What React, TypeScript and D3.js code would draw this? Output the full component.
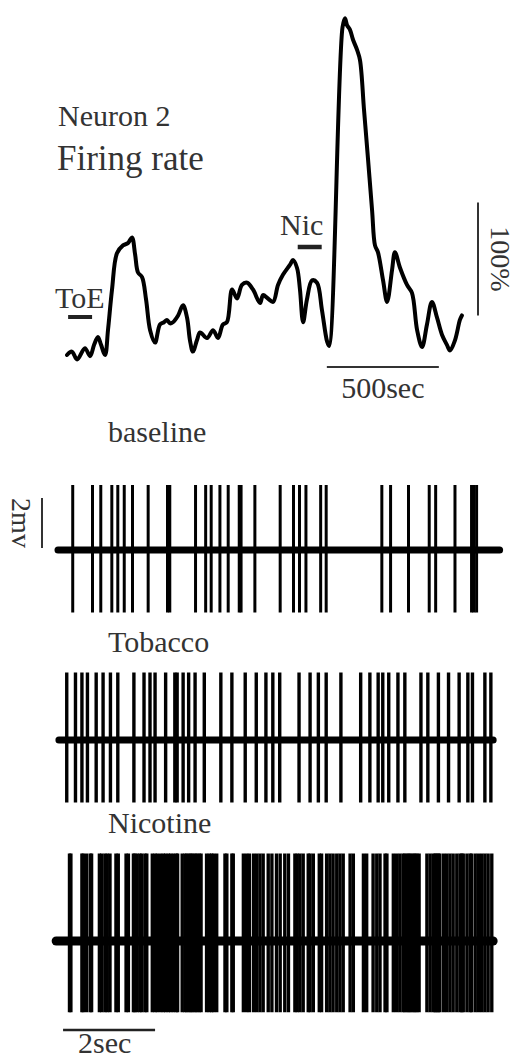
import React from 'react';
import * as d3 from 'd3';

// Firing rate (% of baseline) over time (s)
const frTimes = [0, 22, 45, 80, 103, 121, 138, 152, 170, 183, 201, 223, 250, 272, 290, 304, 317, 335, 353, 371, 393, 415, 433, 446, 460, 473, 496, 518, 536, 549, 562, 580, 594, 625, 652, 674, 696, 714, 737, 759, 781, 804, 830, 862, 875, 897, 920, 942, 964, 996, 1009, 1027, 1040, 1054, 1071, 1094, 1116, 1138, 1161, 1170, 1230, 1241, 1250, 1263, 1277, 1295, 1308, 1326, 1344, 1362, 1375, 1388, 1411, 1429, 1451, 1464, 1487, 1518, 1540, 1563, 1585, 1607, 1629, 1652, 1674, 1696, 1710, 1732, 1754, 1763];
const frValues = [100, 103, 96, 106, 99, 109, 116, 109, 100, 122, 158, 190, 197, 199, 204, 189, 173, 169, 149, 122, 111, 127, 129, 131, 128, 129, 135, 144, 133, 113, 103, 113, 120, 115, 122, 115, 127, 129, 158, 150, 162, 164, 158, 146, 153, 150, 147, 162, 171, 180, 184, 177, 158, 129, 149, 166, 164, 140, 112, 108, 390, 398, 392, 388, 379, 370, 361, 317, 273, 228, 197, 191, 166, 147, 175, 191, 177, 162, 155, 122, 107, 127, 147, 133, 118, 109, 104, 113, 131, 135];

// Spike times (s) for each recording
const baselineSpikes = [0.32, 0.75, 0.93, 1.17, 1.30, 1.44, 1.62, 1.96, 2.38, 2.43, 2.99, 3.21, 3.33, 3.52, 3.70, 3.94, 3.98, 4.28, 4.83, 5.12, 5.25, 5.39, 5.71, 5.83, 7.04, 7.23, 7.62, 8.07, 8.21, 8.63, 8.99, 9.04, 9.10];
const tobaccoSpikes = [0.19, 0.38, 0.52, 0.64, 0.83, 0.98, 1.14, 1.30, 1.65, 1.87, 2.00, 2.11, 2.34, 2.54, 2.59, 2.72, 2.84, 2.98, 3.18, 3.54, 3.78, 4.07, 4.31, 4.52, 4.67, 4.82, 5.24, 5.48, 5.66, 5.83, 6.15, 6.58, 6.78, 6.96, 7.06, 7.19, 7.39, 7.54, 7.89, 8.04, 8.27, 8.49, 8.72, 8.91, 9.01, 9.28, 9.41];
const nicotineSpikes = [0.25, 0.28, 0.52, 0.55, 0.62, 0.70, 0.73, 0.90, 0.95, 1.02, 1.07, 1.13, 1.26, 1.31, 1.48, 1.53, 1.64, 1.67, 1.72, 1.78, 1.82, 1.89, 1.93, 2.05, 2.11, 2.16, 2.23, 2.29, 2.34, 2.40, 2.45, 2.51, 2.57, 2.60, 2.70, 2.76, 2.80, 2.85, 2.89, 2.93, 2.98, 3.02, 3.07, 3.11, 3.23, 3.29, 3.34, 3.38, 3.45, 3.63, 3.67, 3.78, 3.81, 4.03, 4.10, 4.16, 4.25, 4.32, 4.39, 4.46, 4.57, 4.65, 4.75, 4.83, 4.93, 5.01, 5.15, 5.20, 5.26, 5.33, 5.44, 5.48, 5.55, 5.68, 5.73, 5.84, 5.91, 5.98, 6.06, 6.13, 6.20, 6.35, 6.42, 6.64, 6.71, 6.85, 6.93, 7.00, 7.11, 7.15, 7.29, 7.36, 7.43, 7.50, 7.54, 7.59, 7.63, 7.67, 7.72, 7.76, 7.80, 7.85, 8.02, 8.09, 8.16, 8.20, 8.23, 8.27, 8.30, 8.38, 8.45, 8.52, 8.59, 8.67, 8.74, 8.78, 8.81, 8.89, 8.96, 8.99, 9.07, 9.14, 9.21, 9.28, 9.35, 9.43];

const traceNames = ['baseline', 'Tobacco', 'Nicotine'];
const traceStart = [0, 0.02, -0.04];
const traceEnd = [9.6, 9.46, 9.46];
const spikeUp = [2.6, 2.7, 3.5]; // mV
const spikeDown = [2.5, 2.5, 2.85]; // mV

const FONT = "'Liberation Serif', 'Times New Roman', Times, serif";
const TXT = '#333';

export default function App() {
  const W = 516, H = 1060;
  const frX = d3.scaleLinear().domain([0, 500]).range([67, 179]);
  const frY = d3.scaleLinear().domain([0, 100]).range([468, 355]);
  const frLine = d3.line<number>()
    .x((_, i) => frX(frTimes[i]))
    .y((d) => frY(d))
    .curve(d3.curveCatmullRom.alpha(0.5));

  const tX = d3.scaleLinear().domain([0, 2]).range([58, 150]);
  const mv = d3.scaleLinear().domain([0, 2]).range([0, 50]);

  const spikes = [baselineSpikes, tobaccoSpikes, nicotineSpikes];
  const traceY = [550, 740, 941];
  const labelY = [442, 652, 833];
  const traceW = [7, 7, 9];
  const spikeW = [3, 3.4, 3.4];

  return (
    <svg width={W} height={H} style={{ position: 'absolute', left: 0, top: 0, background: '#fff' }}>
      <rect x={0} y={0} width={W} height={H} fill="#fff" />
      {/* Titles */}
      <text x={58} y={126} fontFamily={FONT} fontSize={30} fill={TXT}>Neuron 2</text>
      <text x={57} y={170} fontFamily={FONT} fontSize={35} fill={TXT}>Firing rate</text>

      {/* Firing rate curve */}
      <path d={frLine(frValues) || ''} fill="none" stroke="#000" strokeWidth={4} strokeLinejoin="round" strokeLinecap="round" />

      {/* ToE marker */}
      <text x={55} y={308} fontFamily={FONT} fontSize={30} fill={TXT}>ToE</text>
      <line x1={frX(5)} x2={frX(112)} y1={317} y2={317} stroke="#222" strokeWidth={4} />
      {/* Nic marker */}
      <text x={280} y={235} fontFamily={FONT} fontSize={30} fill={TXT}>Nic</text>
      <line x1={frX(1030)} x2={frX(1137)} y1={247} y2={247} stroke="#222" strokeWidth={4.5} />

      {/* 100% scale bar */}
      <line x1={478} x2={478} y1={frY(235)} y2={frY(135)} stroke="#333" strokeWidth={2} />
      <text transform={`translate(491, ${(frY(235) + frY(135)) / 2}) rotate(90)`} textAnchor="middle" fontFamily={FONT} fontSize={28} fill={TXT}>100%</text>

      {/* 500 sec scale bar */}
      <line x1={frX(1160)} x2={frX(1660)} y1={367} y2={367} stroke="#333" strokeWidth={2} />
      <text x={(frX(1160) + frX(1660)) / 2} y={398} textAnchor="middle" fontFamily={FONT} fontSize={30} fill={TXT}>500sec</text>

      {/* Spike trains */}
      {spikes.map((sp, k) => (
        <g key={k}>
          <text x={108} y={labelY[k]} fontFamily={FONT} fontSize={30} fill={TXT}>{traceNames[k]}</text>
          <line x1={tX(traceStart[k])} x2={tX(traceEnd[k])} y1={traceY[k]} y2={traceY[k]} stroke="#000" strokeWidth={traceW[k]} strokeLinecap="round" />
          {sp.map((t, i) => (
            <line key={i} x1={tX(t)} x2={tX(t)} y1={traceY[k] - mv(spikeUp[k])} y2={traceY[k] + mv(spikeDown[k])} stroke="#000" strokeWidth={spikeW[k]} />
          ))}
        </g>
      ))}

      {/* 2 mV scale bar */}
      <line x1={42} x2={42} y1={traceY[0] - 2 - mv(2)} y2={traceY[0] - 2} stroke="#333" strokeWidth={2} />
      <text transform={`translate(12, ${traceY[0] - 2 - mv(1)}) rotate(90)`} textAnchor="middle" fontFamily={FONT} fontSize={28} fill={TXT}>2mv</text>

      {/* 2 sec scale bar */}
      <line x1={tX(0.11)} x2={tX(2.11)} y1={1030} y2={1030} stroke="#222" strokeWidth={2.5} />
      <text x={78} y={1053} fontFamily={FONT} fontSize={30} fill={TXT}>2sec</text>
    </svg>
  );
}
